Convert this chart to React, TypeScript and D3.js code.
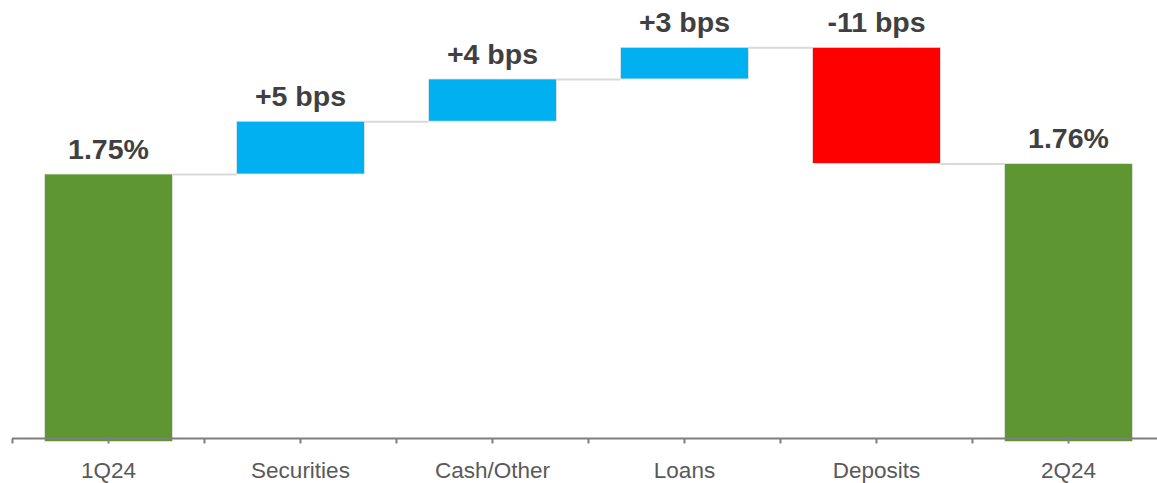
import { useEffect, useRef } from "react";
import * as d3 from "d3";

// waterfall: net interest margin bridge 1Q24 -> 2Q24
const CATEGORIES = ["1Q24", "Securities", "Cash/Other", "Loans", "Deposits", "2Q24"];
const KINDS = ["total", "delta", "delta", "delta", "delta", "total"];
const VALUES = [1.75, 0.05, 0.04, 0.03, -0.11, 1.76];
const LABELS = ["1.75%", "+5 bps", "+4 bps", "+3 bps", "-11 bps", "1.76%"];
const BASE = 1.5;

const W = 1157;
const H = 483;
const FONT = "'Liberation Sans', Arial, sans-serif";

const COLORS = {
  total: "#5e9732",
  up: "#00b0f0",
  down: "#ff0000",
  connector: "#d9d9d9",
  axis: "#7f7f7f",
  label: "#404040",
  tick: "#595959",
};

type Step = { cat: string; y0: number; y1: number; kind: string; label: string };

function buildSteps(): Step[] {
  let running = 0;
  return CATEGORIES.map((cat, i) => {
    const v = VALUES[i];
    if (KINDS[i] === "total") {
      running = v;
      return { cat, y0: BASE, y1: v, kind: "total", label: LABELS[i] };
    }
    const start = running;
    running = +(running + v).toFixed(4);
    return { cat, y0: start, y1: running, kind: v >= 0 ? "up" : "down", label: LABELS[i] };
  });
}

function draw(svgEl: SVGSVGElement) {
  const svg = d3.select(svgEl);
  svg.selectAll("*").remove();

  const steps = buildSteps();

  const x = d3.scaleBand<string>()
    .domain(CATEGORIES)
    .range([12.5, 12.5 + 192 * CATEGORIES.length])
    .paddingInner(1 / 3)
    .paddingOuter(1 / 6);

  const y = d3.scaleLinear().domain([BASE, 1.9]).range([438, 15.6]);
  const axisY = y(BASE) + 0.5;
  const sink = 3.5; // totals run a little past the axis line

  // connectors between bars
  const g = svg.append("g");
  steps.slice(0, -1).forEach((s, i) => {
    const next = steps[i + 1];
    g.append("line")
      .attr("x1", x(s.cat)! + x.bandwidth())
      .attr("x2", x(next.cat)!)
      .attr("y1", y(s.y1) + 0.5)
      .attr("y2", y(s.y1) + 0.5)
      .attr("stroke", COLORS.connector)
      .attr("stroke-width", 2);
  });

  // bars
  g.selectAll("rect.bar")
    .data(steps)
    .enter()
    .append("rect")
    .attr("class", "bar")
    .attr("x", d => x(d.cat)!)
    .attr("width", x.bandwidth())
    .attr("y", d => y(Math.max(d.y0, d.y1)))
    .attr("height", d => Math.abs(y(d.y0) - y(d.y1)) + (d.kind === "total" ? sink : 0))
    .attr("fill", d => (COLORS as any)[d.kind])
    .attr("stroke", "#e8e8e8")
    .attr("stroke-width", 0.8);

  // value labels
  g.selectAll("text.val")
    .data(steps)
    .enter()
    .append("text")
    .attr("class", "val")
    .attr("x", d => x(d.cat)! + x.bandwidth() / 2)
    .attr("y", d => y(Math.max(d.y0, d.y1)) - 15)
    .attr("text-anchor", "middle")
    .attr("fill", COLORS.label)
    .style("font-family", FONT)
    .style("font-weight", "bold")
    .style("font-size", "28.5px")
    .text(d => d.label);

  // x axis
  const ax = svg.append("g");
  ax.append("line")
    .attr("x1", 12).attr("x2", W)
    .attr("y1", axisY).attr("y2", axisY)
    .attr("stroke", COLORS.axis)
    .attr("stroke-width", 2);

  const tickXs: number[] = [];
  CATEGORIES.forEach(c => {
    const b0 = x(c)! - x.step() * x.paddingInner() / 2;
    tickXs.push(b0, b0 + x.step() / 2);
  });
  ax.selectAll("line.tick")
    .data(tickXs)
    .enter()
    .append("line")
    .attr("class", "tick")
    .attr("x1", d => d).attr("x2", d => d)
    .attr("y1", axisY).attr("y2", axisY + 5)
    .attr("stroke", COLORS.axis)
    .attr("stroke-width", 2);

  ax.selectAll("text.cat")
    .data(CATEGORIES)
    .enter()
    .append("text")
    .attr("class", "cat")
    .attr("x", d => x(d)! + x.bandwidth() / 2)
    .attr("y", 478.3)
    .attr("text-anchor", "middle")
    .attr("fill", COLORS.tick)
    .style("font-family", FONT)
    .style("font-size", "22.5px")
    .text(d => d);
}

export default function App() {
  const ref = useRef<SVGSVGElement>(null);
  useEffect(() => {
    if (ref.current) draw(ref.current);
  }, []);
  return (
    <div style={{ position: "fixed", left: 0, top: 0, width: W, height: H, background: "#fff" }}>
      <svg ref={ref} width={W} height={H} style={{ display: "block" }} />
    </div>
  );
}
